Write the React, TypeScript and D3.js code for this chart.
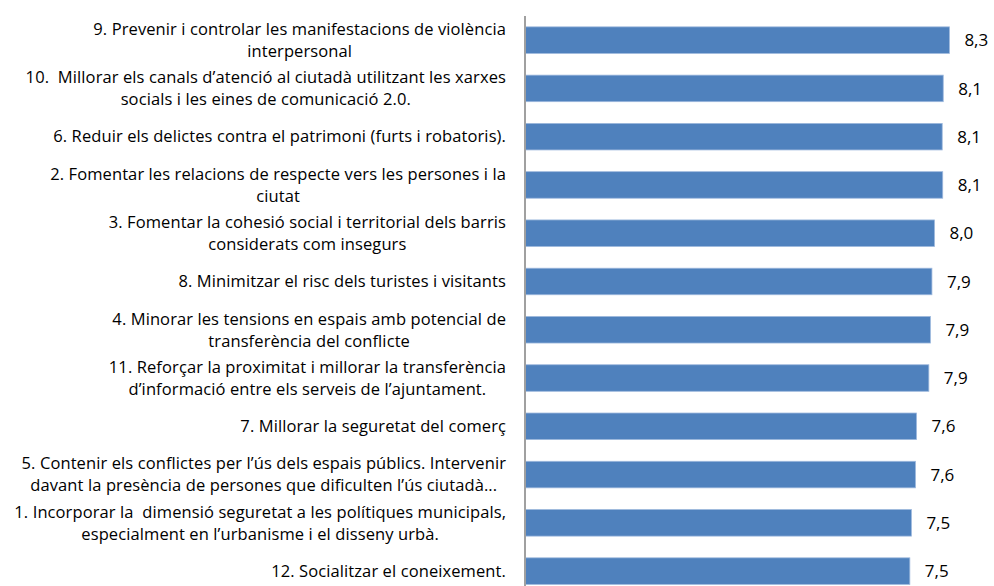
import React, { useEffect, useRef } from "react";
import * as d3 from "d3";

const categoryLines: string[][] = [
  ["9. Prevenir i controlar les manifestacions de violència", "interpersonal"],
  ["10.  Millorar els canals d’atenció al ciutadà utilitzant les xarxes", "socials i les eines de comunicació 2.0."],
  ["6. Reduir els delictes contra el patrimoni (furts i robatoris)."],
  ["2. Fomentar les relacions de respecte vers les persones i la", "ciutat"],
  ["3. Fomentar la cohesió social i territorial dels barris", "considerats com insegurs"],
  ["8. Minimitzar el risc dels turistes i visitants"],
  ["4. Minorar les tensions en espais amb potencial de", "transferència del conflicte"],
  ["11. Reforçar la proximitat i millorar la transferència", "d’informació entre els serveis de l’ajuntament."],
  ["7. Millorar la seguretat del comerç"],
  ["5. Contenir els conflictes per l’ús dels espais públics. Intervenir", "davant la presència de persones que dificulten l’ús ciutadà..."],
  ["1. Incorporar la  dimensió seguretat a les polítiques municipals,", "especialment en l’urbanisme i el disseny urbà."],
  ["12. Socialitzar el coneixement."],
];

const values: number[] = [8.26, 8.14, 8.12, 8.13, 7.97, 7.92, 7.89, 7.86, 7.62, 7.6, 7.52, 7.49];

const W = 994;
const H = 586;

export default function App() {
  const ref = useRef<SVGSVGElement | null>(null);

  useEffect(() => {
    const svg = d3.select(ref.current);
    svg.selectAll("*").remove();

    const ids = categoryLines.map((_, i) => String(i));
    const y = d3
      .scaleBand<string>()
      .domain(ids)
      .range([16, 16 + 12 * 48.27])
      .paddingInner(0.45)
      .paddingOuter(0.225);
    const x = d3.scaleLinear().domain([0, 9]).range([525, 525 + 9 * 51.38]);

    const fmt = (v: number) => d3.format(".1f")(v).replace(".", ",");

    // bars
    svg
      .append("g")
      .selectAll("rect")
      .data(values)
      .join("rect")
      .attr("x", x(0))
      .attr("y", (_, i) => y(String(i))!)
      .attr("width", (d) => x(d) - x(0))
      .attr("height", y.bandwidth())
      .attr("fill", "#4F81BD")
      .attr("stroke", "#9db8dd")
      .attr("stroke-width", 0.8);

    // axis line
    svg
      .append("line")
      .attr("x1", x(0))
      .attr("x2", x(0))
      .attr("y1", 16)
      .attr("y2", H)
      .attr("stroke", "#A0A0A0")
      .attr("stroke-width", 2);

    // value labels
    svg
      .append("g")
      .selectAll("text")
      .data(values)
      .join("text")
      .attr("x", (d) => x(d) + 15)
      .attr("y", (_, i) => y(String(i))! + y.bandwidth() / 2)
      .attr("dy", "0.36em")
      .attr("font-family", "'Open Sans', 'Noto Sans', sans-serif")
      .attr("font-size", 17)
      .attr("fill", "#000")
      .text((d) => fmt(d));

    // category labels
    const rightEdge = 506;
    const lineGap = 22;
    const lg = svg.append("g");
    categoryLines.forEach((lines, i) => {
      const cy = y(String(i))! + y.bandwidth() / 2;
      const n = lines.length;
      const texts = lines.map((ln, j) =>
        lg
          .append("text")
          .attr("x", rightEdge)
          .attr("y", cy + (j - (n - 1) / 2) * lineGap)
          .attr("dy", "0.35em")
          .attr("text-anchor", "end")
          .attr("font-family", "'Open Sans', 'Noto Sans', sans-serif")
          .attr("font-size", 16.5)
          .attr("letter-spacing", 0.1)
          .attr("fill", "#000")
          .style("white-space", "pre")
          .text(ln)
      );
      const widths = texts.map((t) => (t.node() as SVGTextElement).getComputedTextLength());
      const bw = Math.max(...widths);
      texts.forEach((t) => t.attr("text-anchor", "middle").attr("x", rightEdge - bw / 2));
    });
  }, []);

  return (
    <svg
      ref={ref}
      width={W}
      height={H}
      style={{ position: "absolute", left: 0, top: 0, background: "#fff", display: "block" }}
    />
  );
}
